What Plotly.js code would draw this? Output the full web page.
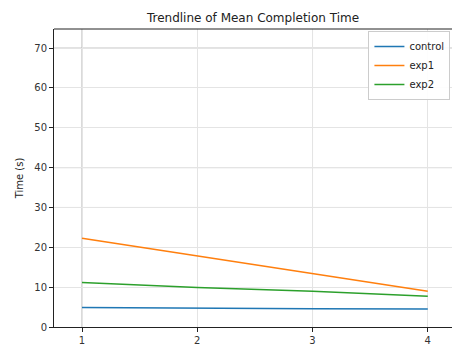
<!DOCTYPE html>
<html><head><meta charset="utf-8">
<script src="https://cdn.plot.ly/plotly-3.0.1.min.js"></script>
<style>html,body{margin:0;padding:0;background:#fff}#chart{width:452px;height:349px}</style>
</head><body><div id="chart"></div>
<script>
const sessions = [1, 2, 3, 4];
const control = [4.9, 4.7, 4.6, 4.5];
const exp1 = [22.3, 17.9, 13.4, 9.0];
const exp2 = [11.2, 9.9, 9.0, 7.7];
const seriesNames = ['control', 'exp1', 'exp2'];
const colors = ['#1f77b4', '#ff7f0e', '#2ca02c'];
const font = 'DejaVu Sans, sans-serif';

const traces = [control, exp1, exp2].map((ys, i) => ({
  x: sessions, y: ys, type: 'scatter', mode: 'lines', name: seriesNames[i],
  line: {color: colors[i], width: 1.5}
}));

const darkX = [1, 3], darkY = [30, 40, 70];
const shapes = [];
darkX.forEach(v => shapes.push({type:'line', xref:'x', yref:'paper', x0:v, x1:v, y0:0, y1:1, line:{color:'#b4b4b4', width:1}, layer:'below'}));
darkY.forEach(v => shapes.push({type:'line', xref:'paper', yref:'y', x0:0, x1:1, y0:v, y1:v, line:{color:'#b4b4b4', width:1}, layer:'below'}));
shapes.push({type:'line', xref:'paper', yref:'paper', x0:0, x1:1, y0:1, y1:1, line:{color:'#222', width:1}});

const layout = {
  width: 452, height: 349,
  margin: {l: 54, r: 0, t: 29, b: 22},
  paper_bgcolor: '#fff', plot_bgcolor: '#fff',
  font: {family: font, size: 10, color: '#333'},
  title: {text: 'Trendline of Mean Completion Time', font: {family: font, size: 12, color: '#222'}, x: 0.5, xref: 'paper', y: 0.95, yref: 'container', yanchor: 'middle'},
  showlegend: true,
  legend: {x: 0.79, y: 0.993, xanchor: 'left', yanchor: 'top', bordercolor: '#cccccc', borderwidth: 1, bgcolor: 'rgba(255,255,255,0.9)', font: {family: font, size: 10, color: '#222'}, tracegroupgap: 0, itemwidth: 30, entrywidth: 90},
  xaxis: {range: [0.757, 4.21], tickvals: sessions, ticktext: sessions.map(String), showgrid: true, gridcolor: '#e4e4e4', gridwidth: 1, zeroline: false, showline: true, linecolor: '#222', linewidth: 1, mirror: false, ticks: 'outside', ticklen: 4, tickcolor: '#222'},
  yaxis: {range: [0, 74.8], tickvals: [0,10,20,30,40,50,60,70], showgrid: true, gridcolor: '#e4e4e4', gridwidth: 1, zeroline: false, showline: true, linecolor: '#222', linewidth: 1, ticks: 'outside', ticklen: 4, tickcolor: '#222', title: {text: 'Time (s)', font: {family: font, size: 10, color: '#222'}, standoff: 8}},
  shapes: shapes
};
Plotly.newPlot('chart', traces, layout, {displayModeBar: false, staticPlot: true});
</script></body></html>
